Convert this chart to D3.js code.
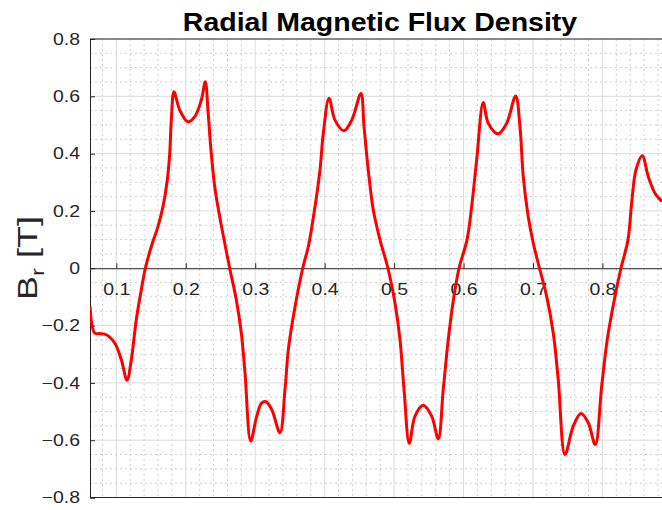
<!DOCTYPE html>
<html><head><meta charset="utf-8">
<script src="https://cdn.jsdelivr.net/npm/d3@7"></script>
<style>body{margin:0;background:#fff}svg{display:block}</style>
</head><body>
<script>
const title = "Radial Magnetic Flux Density";
const xTicks = [0.1,0.2,0.3,0.4,0.5,0.6,0.7,0.8];
const yTicks = [-0.8,-0.6,-0.4,-0.2,0,0.2,0.4,0.6,0.8];
const xPos = [0.0621,0.0689,0.0761,0.0856,0.0977,0.1072,0.1154,0.1216,0.1288,0.1360,0.1418,0.1504,0.1600,0.1672,0.1734,0.1769,0.1792,0.1831,0.1913,0.2032,0.2129,0.2224,0.2281,0.2320,0.2359,0.2417,0.2489,0.2561,0.2633,0.2728,0.2800,0.2853,0.2935,0.3022,0.3094,0.3156,0.3238,0.3357,0.3429,0.3477,0.3549,0.3684,0.3765,0.3861,0.3933,0.3981,0.4063,0.4149,0.4279,0.4390,0.4523,0.4567,0.4628,0.4700,0.4797,0.4912,0.5013,0.5085,0.5143,0.5219,0.5301,0.5420,0.5541,0.5636,0.5708,0.5780,0.5862,0.5935,0.6050,0.6117,0.6189,0.6284,0.6356,0.6500,0.6621,0.6751,0.6813,0.6860,0.6932,0.7004,0.7094,0.7197,0.7292,0.7364,0.7461,0.7580,0.7691,0.7796,0.7897,0.7989,0.8070,0.8181,0.8267,0.8368,0.8421,0.8483,0.8574,0.8660,0.8757,0.8858];
const brVals = [-0.133,-0.226,-0.228,-0.232,-0.261,-0.319,-0.391,-0.319,-0.179,-0.075,0,0.076,0.146,0.215,0.308,0.401,0.517,0.616,0.552,0.511,0.529,0.587,0.651,0.552,0.424,0.285,0.180,0.088,0,-0.110,-0.226,-0.365,-0.603,-0.516,-0.470,-0.466,-0.493,-0.574,-0.423,-0.284,-0.168,0,0.076,0.215,0.343,0.471,0.593,0.517,0.480,0.517,0.610,0.494,0.343,0.204,0.099,0,-0.121,-0.249,-0.423,-0.611,-0.516,-0.478,-0.516,-0.595,-0.423,-0.249,-0.098,0,0.099,0.215,0.378,0.578,0.506,0.469,0.506,0.601,0.494,0.320,0.180,0.088,0,-0.098,-0.226,-0.389,-0.650,-0.551,-0.507,-0.539,-0.615,-0.412,-0.249,-0.098,0,0.099,0.227,0.343,0.393,0.320,0.262,0.233];

const W = 662, H = 510;
const L = 90, R = 662, T = 39, B = 497.5;
const svg = d3.select("body").append("svg").attr("width", W).attr("height", H);
const x = d3.scaleLinear().domain([0.0621, 0.8858]).range([L, R]);
const y = d3.scaleLinear().domain([-0.8, 0.8]).range([B, T]);
const font = "'Liberation Sans', Arial, Helvetica, sans-serif";
const axisCol = "#262626";

function stretch(sel, f) {
  sel.each(function() {
    const len = this.getComputedTextLength();
    d3.select(this).attr("textLength", len * f).attr("lengthAdjust", "spacingAndGlyphs");
  });
}

// minor grid
const xMinor = d3.range(0.02, 0.9, 0.02).filter(v => v > 0.0621 && v < 0.8858 && Math.abs(v*10 - Math.round(v*10)) > 1e-6);
const yMinor = d3.range(-0.75, 0.8, 0.05).filter(v => Math.abs(v*5 - Math.round(v*5)) > 1e-6);
const g = svg.append("g");
g.selectAll(".xm").data(xMinor).enter().append("line")
  .attr("x1", d => x(d)).attr("x2", d => x(d)).attr("y1", T).attr("y2", B)
  .attr("stroke", "#d0d0d0").attr("stroke-width", 1).attr("stroke-dasharray", "2,3");
g.selectAll(".ym").data(yMinor).enter().append("line")
  .attr("x1", L).attr("x2", R).attr("y1", d => y(d)).attr("y2", d => y(d))
  .attr("stroke", "#d0d0d0").attr("stroke-width", 1).attr("stroke-dasharray", "2,3");
// major grid
g.selectAll(".xM").data(xTicks).enter().append("line")
  .attr("x1", d => x(d)).attr("x2", d => x(d)).attr("y1", T).attr("y2", B)
  .attr("stroke", "#dcdcdc").attr("stroke-width", 1);
g.selectAll(".yM").data(yTicks).enter().append("line")
  .attr("x1", L).attr("x2", R).attr("y1", d => y(d)).attr("y2", d => y(d))
  .attr("stroke", "#dcdcdc").attr("stroke-width", 1);

// box
svg.append("line").attr("x1", L).attr("x2", R).attr("y1", T).attr("y2", T).attr("stroke", axisCol);
svg.append("line").attr("x1", L).attr("x2", R).attr("y1", B).attr("y2", B).attr("stroke", axisCol);

// y axis
const yAxis = d3.axisLeft(y).tickValues(yTicks).tickSize(-5).tickPadding(10)
  .tickFormat(d => d === 0 ? "0" : d3.format(".1f")(d));
const ya = svg.append("g").attr("transform", `translate(${L},0)`).call(yAxis);
ya.select(".domain").attr("stroke", axisCol);
ya.selectAll(".tick line").attr("stroke", axisCol);
ya.selectAll(".tick text").attr("fill", axisCol).style("font-family", font).style("font-size", "16.5px").call(stretch, 1.18);

// x axis at zero
const xAxis = d3.axisBottom(x).tickValues(xTicks).tickSize(-5).tickPadding(15).tickFormat(d3.format(".1f")).tickSizeOuter(0);
const xa = svg.append("g").attr("transform", `translate(0,${y(0)})`).call(xAxis);
xa.select(".domain").attr("stroke", axisCol);
xa.selectAll(".tick line").attr("stroke", axisCol);
xa.selectAll(".tick text").attr("fill", axisCol).style("font-family", font).style("font-size", "16.5px").call(stretch, 1.18);

// line
svg.append("defs").append("clipPath").attr("id", "clip").append("rect")
  .attr("x", L).attr("y", T).attr("width", R - L).attr("height", B - T);
const pts = xPos.map((v, i) => [v, brVals[i]]);
svg.append("path").datum(pts).attr("clip-path", "url(#clip)")
  .attr("d", d3.line().x(d => x(d[0])).y(d => y(d[1])).curve(d3.curveCatmullRom.alpha(0.5)))
  .attr("fill", "none").attr("stroke", "#ff0000").attr("stroke-width", 3).attr("stroke-linejoin", "round");

// title
svg.append("text").attr("x", 380).attr("y", 31).attr("text-anchor", "middle")
  .style("font-family", font).style("font-weight", "bold").style("font-size", "25px").attr("fill", "#000")
  .text(title).call(stretch, 1.14);

// y label
const yl = svg.append("text").attr("transform", "translate(37,258) rotate(-90) scale(1.33,1)").attr("text-anchor", "middle")
  .style("font-family", font).style("font-size", "27px").attr("fill", axisCol);
yl.append("tspan").text("B");
yl.append("tspan").attr("dy", 7).style("font-size", "18px").text("r");
yl.append("tspan").attr("dy", -7).text(" [T]");
</script>
</body></html>
